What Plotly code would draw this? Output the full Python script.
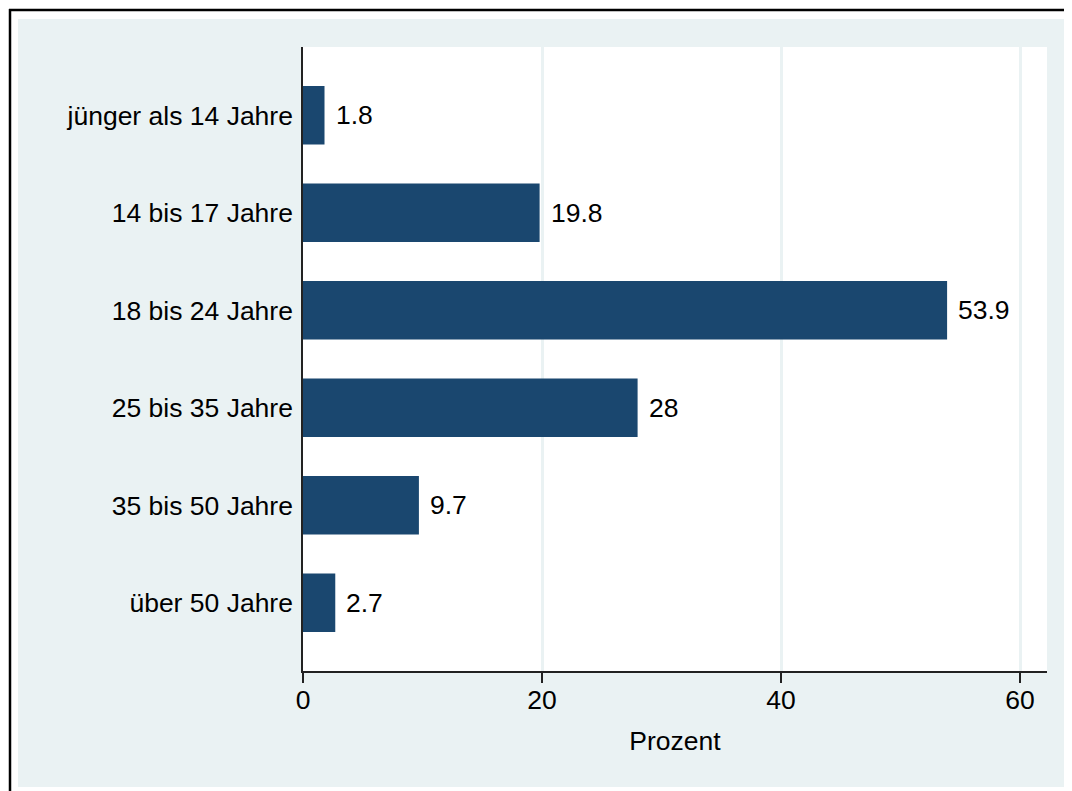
import plotly.graph_objects as go

categories = ["jünger als 14 Jahre", "14 bis 17 Jahre", "18 bis 24 Jahre",
              "25 bis 35 Jahre", "35 bis 50 Jahre", "über 50 Jahre"]
values = [1.8, 19.8, 53.9, 28, 9.7, 2.7]
value_labels = ["1.8", "19.8", "53.9", "28", "9.7", "2.7"]
x_ticks = [0, 20, 40, 60]

O = 8  # page body margin offset
W, H = 1072 - O, 791 - O
L, R, T, B = 303 - O, 1047 - O, 47 - O, 671 - O  # plot area pixels (figure coords)

BG = "#EAF2F3"
NAVY = "#1A476F"
FONT = "Arial, Liberation Sans, sans-serif"
FS = 26.5

fig = go.Figure()
fig.add_trace(go.Bar(
    y=categories, x=values, orientation="h",
    marker=dict(color=NAVY, line=dict(width=0)),
    width=0.6, hoverinfo="skip",
))

for c, v, t in zip(categories, values, value_labels):
    fig.add_annotation(x=v, y=c, text=t, showarrow=False, xanchor="left",
                       xshift=9, yanchor="middle",
                       font=dict(family=FONT, size=FS, color="black"))


def px(x):
    return (x - O - L) / (R - L)


def py(y):
    return (B - (y - O)) / (B - T)


shapes = [
    dict(type="rect", xref="paper", yref="paper", x0=px(0), x1=px(1072), y0=py(0), y1=py(19),
         fillcolor="white", line=dict(width=0), layer="below"),
    dict(type="rect", xref="paper", yref="paper", x0=px(0), x1=px(18), y0=py(0), y1=py(791),
         fillcolor="white", line=dict(width=0), layer="below"),
    dict(type="rect", xref="paper", yref="paper", x0=px(0), x1=px(1072), y0=py(787), y1=py(791),
         fillcolor="white", line=dict(width=0), layer="below"),
    dict(type="line", xref="paper", yref="paper", x0=px(9), x1=px(1072), y0=py(10), y1=py(10),
         line=dict(color="black", width=2.5)),
    dict(type="line", xref="paper", yref="paper", x0=px(10), x1=px(10), y0=py(9), y1=py(791),
         line=dict(color="black", width=2.5)),
]

fig.update_layout(
    width=W, height=H,
    margin=dict(l=L, r=W - R, t=T, b=H - B, pad=0),
    paper_bgcolor=BG, plot_bgcolor="white",
    showlegend=False,
    font=dict(family=FONT, size=FS, color="black"),
    shapes=shapes,
    xaxis=dict(
        range=[0, (R - L) / 11.95], tickvals=x_ticks, ticktext=[str(v) for v in x_ticks],
        showgrid=True, gridcolor=BG, gridwidth=3, zeroline=False,
        showline=True, linecolor="#222222", linewidth=1.5,
        ticks="outside", ticklen=10, tickwidth=1.5, tickcolor="#222222",
        ticklabelstandoff=-6,
        tickfont=dict(family=FONT, size=FS, color="black"),
        title=dict(text="Prozent", font=dict(family=FONT, size=FS, color="black"), standoff=18),
    ),
    yaxis=dict(
        categoryorder="array", categoryarray=categories, autorange=False,
        range=[5.7, -0.7],
        showgrid=False, zeroline=False,
        showline=True, linecolor="#222222", linewidth=1.5,
        ticks="", ticklabelstandoff=3,
        tickfont=dict(family=FONT, size=FS, color="black"),
    ),
)

fig.write_html("out.html",
               post_script="document.documentElement.style.overflow='hidden';"
                           "document.body.style.overflow='hidden';")
